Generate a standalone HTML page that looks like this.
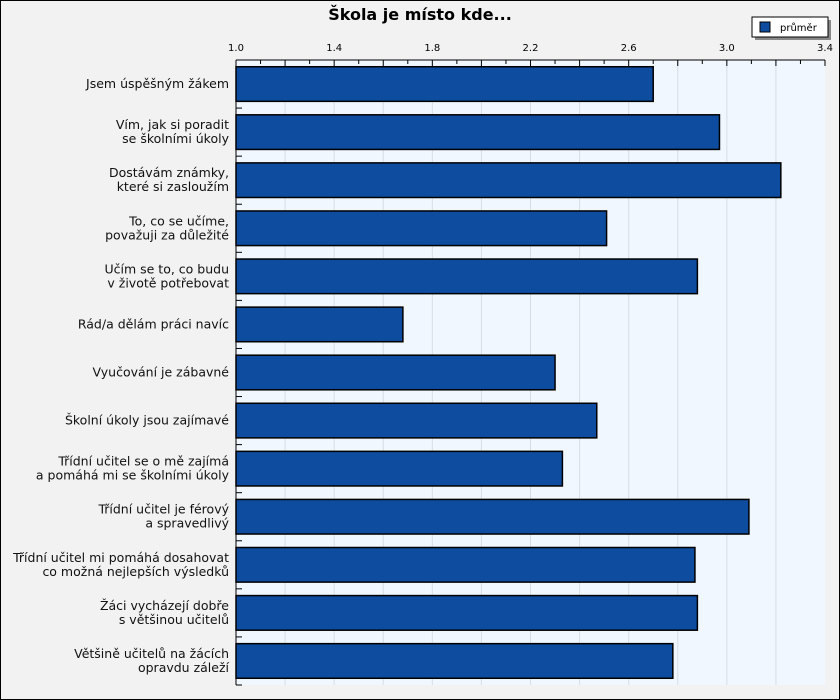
<!DOCTYPE html>
<html><head><meta charset="utf-8"><style>
body{margin:0;width:840px;height:700px;overflow:hidden;background:#fff}
svg{display:block;font-family:"DejaVu Sans","Liberation Sans",sans-serif}
</style></head><body>
<svg id="c" width="840" height="700">
<rect x="0.5" y="0.5" width="839" height="699" fill="#f2f2f2" stroke="#000"/>
<text x="420" y="20" text-anchor="middle" font-size="16" font-weight="bold">Škola je místo kde...</text>
<g>
<rect x="755" y="20" width="76" height="20" fill="#888"/>
<rect x="752" y="17" width="76" height="20" fill="#fff" stroke="#000"/>
<rect x="760" y="22" width="10" height="10" fill="#0e4c9f" stroke="#000"/>
<text x="780" y="31" font-size="10">průměr</text>
</g>
<g id="plot"></g>
</svg>
<script>
const categories=[["Jsem úspěšným žákem"],["Vím, jak si poradit","se školními úkoly"],["Dostávám známky,","které si zasloužím"],["To, co se učíme,","považuji za důležité"],["Učím se to, co budu","v životě potřebovat"],["Rád/a dělám práci navíc"],["Vyučování je zábavné"],["Školní úkoly jsou zajímavé"],["Třídní učitel se o mě zajímá","a pomáhá mi se školními úkoly"],["Třídní učitel je férový","a spravedlivý"],["Třídní učitel mi pomáhá dosahovat","co možná nejlepších výsledků"],["Žáci vycházejí dobře","s většinou učitelů"],["Většině učitelů na žácích","opravdu záleží"]];
const values=[2.70,2.97,3.22,2.51,2.88,1.68,2.30,2.47,2.33,3.09,2.87,2.88,2.78];
const tickLabels=["1.0","1.4","1.8","2.2","2.6","3.0","3.4"];
const xMin=1.0,xMax=3.4;
const L=236,R=825,T=60,B=685;
const NS="http://www.w3.org/2000/svg";
const g=document.getElementById('plot');
const x=v=>L+(v-xMin)/(xMax-xMin)*(R-L);
const band=(B-T)/categories.length;
const y=i=>T+i*band;
function mk(t,a){const e=document.createElementNS(NS,t);for(const k in a)e.setAttribute(k,a[k]);g.appendChild(e);return e;}
const bg=mk('rect',{x:L,y:T,width:R-L,height:B-T,fill:'#f0f7ff'});


for(let v=xMin+0.2;v<xMax-0.01;v+=0.2){const l=mk('line',{x1:x(v),x2:x(v),y1:T,y2:B,stroke:'#d8dde6'});

}
for(let k=0;k<=24;k++){const v=xMin+k*0.1;const t=mk('line',{x1:x(v),x2:x(v),y1:T,y2:T+(k%2?4:6),stroke:'#000'});

}
tickLabels.forEach(s=>{const t=mk('text',{x:x(+s),y:51,'text-anchor':'middle','font-size':10});t.textContent=s;

});
for(let i=0;i<=categories.length;i++){const t=mk('line',{x1:L,x2:L+6,y1:y(i),y2:y(i),stroke:'#000'});

}
values.forEach((v,i)=>{const bh=band*0.72;const r=mk('rect',{x:L,y:y(i)+(band-bh)/2,width:x(v)-L,height:bh,fill:'#0e4c9f',stroke:'#000','stroke-width':1.5});


const lines=categories[i];const cy=y(i)+band/2;
lines.forEach((s,j)=>{const t=mk('text',{x:229,y:cy+4+(j-(lines.length-1)/2)*14,'text-anchor':'end','font-size':12.5,fill:'#111'});t.textContent=s;

});});
const ax=mk('line',{x1:L,x2:L,y1:T,y2:B,stroke:'#000'});


const tx=mk('line',{x1:L,x2:R,y1:T,y2:T,stroke:'#000'});


</script>
</body></html>
